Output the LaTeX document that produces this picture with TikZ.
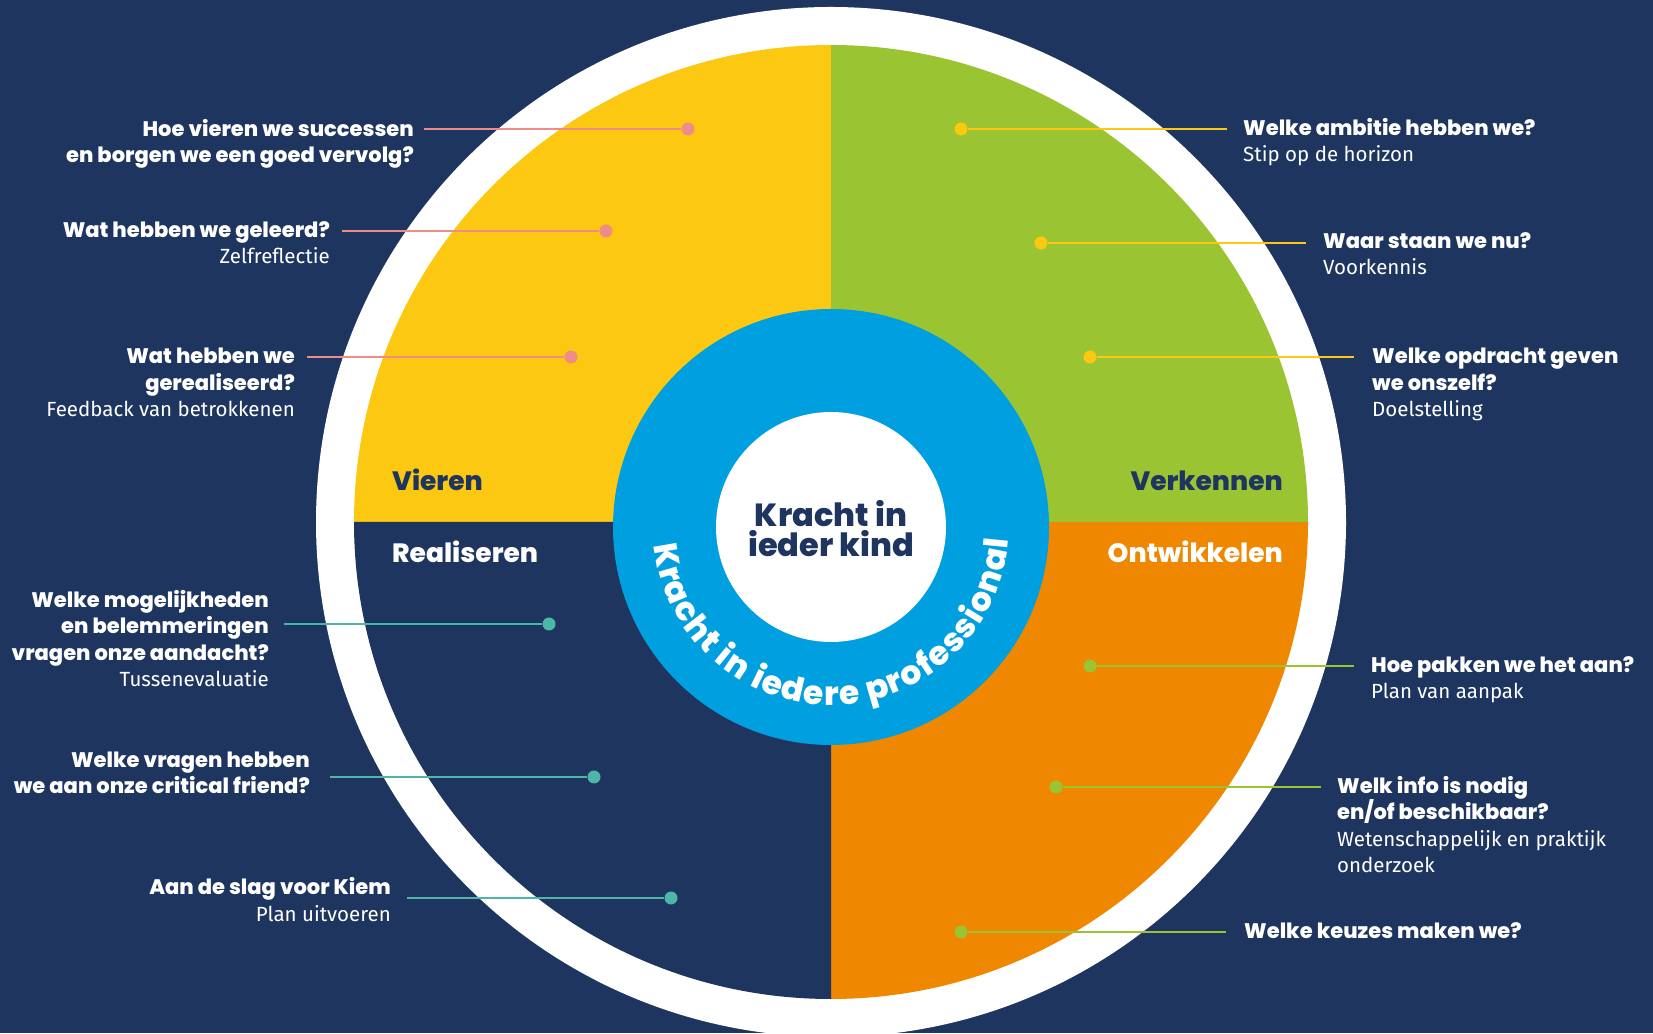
\documentclass[tikz,border=0pt]{standalone}
\usepackage{fontspec}
\setmainfont{Poppins}[BoldFont={Poppins ExtraBold}]
\newfontfamily\lightfont{Fira Sans}
\usetikzlibrary{decorations.text}
\definecolor{bgnavy}{HTML}{1E3560}
\definecolor{qyellow}{HTML}{FCC812}
\definecolor{qgreen}{HTML}{9BC432}
\definecolor{qorange}{HTML}{F08700}
\definecolor{qblue}{HTML}{009FE0}
\definecolor{cpink}{HTML}{EF8B88}
\definecolor{cteal}{HTML}{4DB6A6}
\newcommand\curvefont{\fontsize{33}{33}\selectfont\bfseries}
\tikzset{
  lbl/.style={font=\fontsize{21}{26.5}\selectfont\bfseries, text=white, inner sep=0pt},
  lblL/.style={lbl, align=right, anchor=base east},
  lblR/.style={lbl, align=left, anchor=base west},
  quad/.style={font=\fontsize{26.5}{27}\selectfont\bfseries, inner sep=0pt},
  dot/.style={circle, fill=#1, minimum size=13pt, inner sep=0pt},
  conn/.style={draw=#1, line width=2pt},
}
\newcommand\lt[1]{{\lightfont\mdseries\fontsize{20.5}{26.5}\selectfont #1}}
\begin{document}
\begin{tikzpicture}[x=1pt,y=1pt]
\useasboundingbox (0,0) rectangle (1653,1033);
\fill[bgnavy] (0,0) rectangle (1653,1033);
\begin{scope}
\clip (0,0) rectangle (1653,1033);
\coordinate (C) at (831,511);
\coordinate (Ci) at (831,506);
\fill[white] (C) circle[radius=515pt];
\fill[qyellow] (C) -- ++(180:477pt) arc[start angle=180, end angle=90, radius=477pt] -- cycle;
\fill[qgreen] (C) -- ++(90:477pt) arc[start angle=90, end angle=0, radius=477pt] -- cycle;
\fill[qorange] (C) -- ++(0:477pt) arc[start angle=0, end angle=-90, radius=477pt] -- cycle;
\fill[bgnavy] (C) -- ++(270:477pt) arc[start angle=270, end angle=180, radius=477pt] -- cycle;
\end{scope}
\fill[qblue] (Ci) circle[radius=218pt];
\fill[white] (Ci) circle[radius=115pt];

% quadrant labels
\node[quad, text=bgnavy, anchor=base west] (vieren) at (392,542) {Vieren};
\node[quad, text=bgnavy, anchor=base east] (verkennen) at (1283,542) {Verkennen};
\node[quad, text=white, anchor=base west] (realiseren) at (392,470) {Realiseren};
\node[quad, text=white, anchor=base east] (ontwikkelen) at (1283,470) {Ontwikkelen};

% centre
\node[font=\fontsize{32}{30}\selectfont\bfseries, text=bgnavy, align=center, inner sep=0pt, anchor=base] (kind) at (831,476) {Kracht in\\ieder kind};
\path[decorate, decoration={text along path, text={|\curvefont|Kracht in iedere professional}, text align={fit to path}, text color=white}]
  (Ci) ++(186:178pt) arc[start angle=186, end angle=356, radius=178pt];

% left top (pink)
\node[lblL] (t1) at (414,870) {Hoe vieren we successen\\en borgen we een goed vervolg?};
\node[dot=cpink] (d1) at (688,904) {};
\coordinate (s1) at (424,904);
\draw[conn=cpink] (s1) -- (d1);
\node[lblL] (t2) at (330,769) {Wat hebben we geleerd?\\\lt{Zelfreflectie}};
\node[dot=cpink] (d2) at (606,802) {};
\coordinate (s2) at (342,802);
\draw[conn=cpink] (s2) -- (d2);
\node[lblL] (t3) at (295,616) {Wat hebben we\\gerealiseerd?\\\lt{Feedback van betrokkenen}};
\node[dot=cpink] (d3) at (571,676) {};
\coordinate (s3) at (307,676);
\draw[conn=cpink] (s3) -- (d3);

% right top (yellow)
\node[lblR] (t4) at (1243,871) {Welke ambitie hebben we?\\\lt{Stip op de horizon}};
\node[dot=qyellow] (d4) at (961,904) {};
\coordinate (s4) at (1227,904);
\draw[conn=qyellow] (s4) -- (d4);
\node[lblR] (t5) at (1323,758) {Waar staan we nu?\\\lt{Voorkennis}};
\node[dot=qyellow] (d5) at (1041,790) {};
\coordinate (s5) at (1306,790);
\draw[conn=qyellow] (s5) -- (d5);
\node[lblR] (t6) at (1372,616) {Welke opdracht geven\\we onszelf?\\\lt{Doelstelling}};
\node[dot=qyellow] (d6) at (1090,676) {};
\coordinate (s6) at (1354,676);
\draw[conn=qyellow] (s6) -- (d6);

% left bottom (teal)
\node[lblL] (t7) at (269,346) {Welke mogelijkheden\\en belemmeringen\\vragen onze aandacht?\\\lt{Tussenevaluatie}};
\node[dot=cteal] (d7) at (549,409) {};
\coordinate (s7) at (284,409);
\draw[conn=cteal] (s7) -- (d7);
\node[lblL] (t8) at (310,239) {Welke vragen hebben\\we aan onze critical friend?};
\node[dot=cteal] (d8) at (594,256) {};
\coordinate (s8) at (330,256);
\draw[conn=cteal] (s8) -- (d8);
\node[lblL] (t9) at (391,112) {Aan de slag voor Kiem\\\lt{Plan uitvoeren}};
\node[dot=cteal] (d9) at (671,135) {};
\coordinate (s9) at (407,135);
\draw[conn=cteal] (s9) -- (d9);

% right bottom (green)
\node[lblR] (t10) at (1371,334) {Hoe pakken we het aan?\\\lt{Plan van aanpak}};
\node[dot=qgreen] (d10) at (1090,367) {};
\coordinate (s10) at (1354,367);
\draw[conn=qgreen] (s10) -- (d10);
\node[lblR] (t11) at (1337,160) {Welk info is nodig\\en/of beschikbaar?\\\lt{Wetenschappelijk en praktijk}\\\lt{onderzoek}};
\node[dot=qgreen] (d11) at (1056,246) {};
\coordinate (s11) at (1321,246);
\draw[conn=qgreen] (s11) -- (d11);
\node[lblR] (t12) at (1244,95) {Welke keuzes maken we?};
\node[dot=qgreen] (d12) at (961,101) {};
\coordinate (s12) at (1226,101);
\draw[conn=qgreen] (s12) -- (d12);
\end{tikzpicture}
\end{document}
